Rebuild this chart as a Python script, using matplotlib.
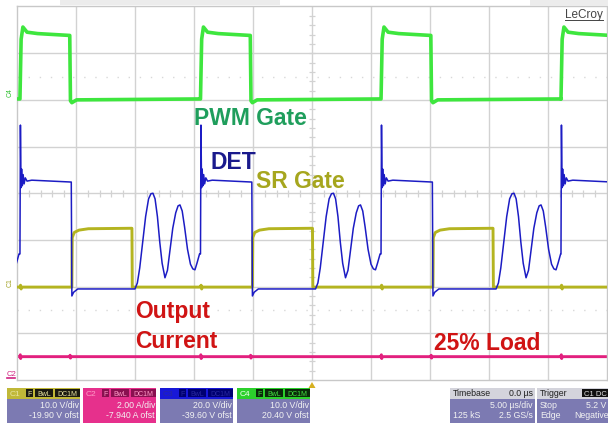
import numpy as np
import matplotlib.pyplot as plt
from matplotlib.patches import Rectangle, Polygon

plt.rcParams['font.family'] = ['Liberation Sans', 'DejaVu Sans']

# scope screen: 10 x 5 us horizontally, 8 divisions vertically
t_div = 5.0
n_xdiv = 10
n_ydiv = 8

# PWM gate rising edges (us)
period_starts = [-15.05, 0.25, 15.55, 30.85, 46.1]

# one switching period of each trace: time from rising edge (us), level (div)
pwm_t = [0.0, 0.1, 0.25, 0.6, 1.5, 4.22, 4.28, 4.4, 4.8, 15.28]
pwm_v = [2.02, 3.3, 3.56, 3.45, 3.42, 3.38, 1.98, 1.94, 2.0, 2.02]

det_t = [0.0, 0.04, 0.09, 0.14, 0.2, 0.27, 0.35, 0.45, 0.6, 1.0, 4.35, 4.4,
         4.55, 4.9, 9.75, 9.95, 10.15, 10.4, 10.65, 10.9, 11.1, 11.27, 11.45,
         11.65, 11.85, 12.05, 12.29, 12.5, 12.7, 12.95, 13.2, 13.4, 13.56,
         13.75, 13.95, 14.2, 14.45, 14.65, 14.83, 15.0, 15.22]
det_v = [-1.3, 1.46, 0.12, 0.52, 0.16, 0.4, 0.2, 0.33, 0.26, 0.28, 0.24, -2.2,
         -2.12, -2.05, -2.05, -1.92, -1.6, -1.05, -0.5, -0.12, -0.01, 0.0, -0.12,
         -0.5, -1.05, -1.5, -1.81, -1.65, -1.25, -0.75, -0.42, -0.27, -0.25,
         -0.38, -0.72, -1.2, -1.52, -1.62, -1.64, -1.5, -1.3]

sr_t = [0.0, 0.05, 0.1, 0.15, 4.4, 4.43, 4.6, 5.0, 5.8, 9.49, 9.52, 15.28]
sr_v = [-2.01, -1.97, -2.05, -2.01, -2.01, -0.95, -0.84, -0.79, -0.76, -0.75,
        -2.01, -2.01]

iout_t = [0.0, 0.03, 0.06, 0.09, 4.22, 4.25, 4.28, 4.31, 15.28]
iout_v = [-3.5, -3.46, -3.54, -3.5, -3.5, -3.47, -3.53, -3.5, -3.5]


def trace(t, v):
    ts = np.concatenate([s + np.array(t) for s in period_starts])
    vs = np.concatenate([np.array(v) for s in period_starts])
    return ts, vs


fig = plt.figure(figsize=(6.08, 4.23), dpi=100)
W, H = 608, 423

# grid area in pixels: x 17..607, y 6.5..380
ax = fig.add_axes([17 / W, 1 - 380 / H, 590 / W, 373.5 / H])
ax.set_xlim(0, n_xdiv * t_div)
ax.set_ylim(-n_ydiv / 2, n_ydiv / 2)
ax.set_xticks([])
ax.set_yticks([])
for s in ax.spines.values():
    s.set_color('#c8c8c8')
    s.set_linewidth(1)

gcol = '#d2d2d2'
for k in range(1, n_xdiv):
    ax.axvline(k * t_div, color=gcol, lw=1.0, zorder=0)
for k in range(1, n_ydiv):
    yv = -n_ydiv / 2 + k
    ax.axhline(yv, color=gcol, lw=1.0, zorder=0)
for yv in [2.5, -2.5]:
    ax.axhline(yv, color='#d8d8d8', lw=1.0, ls=(0, (1, 7)), zorder=0)

# minor ticks on the centre axes
tx = np.arange(0, n_xdiv * t_div, t_div / 5)
ax.vlines(tx, -0.07, 0.07, color=gcol, lw=0.9, zorder=0)
ty = np.arange(-n_ydiv / 2, n_ydiv / 2, 0.2)
ax.hlines(ty, 25 - 0.25, 25 + 0.25, color=gcol, lw=0.9, zorder=0)

ax.plot(*trace(iout_t, iout_v), color='#e2207e', lw=2.1, zorder=2)
ax.plot(*trace(sr_t, sr_v), color='#b4b420', lw=2.1, zorder=3)
ax.plot(*trace(det_t, det_v), color='#1c1cc4', lw=1.1, zorder=4)
ax.plot(*trace(pwm_t, pwm_v), color='#3ee63e', lw=2.6, zorder=5)

# overlay in pixel units for labels and the status bar
ov = fig.add_axes([0, 0, 1, 1], zorder=10)
ov.set_xlim(0, W)
ov.set_ylim(H, 0)
ov.axis('off')
ov.patch.set_alpha(0)

# light bars at the top edge
ov.add_patch(Rectangle((60, 0), 220, 5, color='#ececec', lw=0))
ov.add_patch(Rectangle((530, 0), 78, 6, color='#ececec', lw=0))

lab = dict(fontsize=16.5, fontweight='bold', va='baseline', ha='left')
ov.text(194, 125, 'PWM Gate', color='#1f9e5c', **lab)
ov.text(210, 169, 'DET', color='#1a1a8c', **lab)
ov.text(256, 188, 'SR Gate', color='#a6a61e', **lab)
ov.text(135, 318, 'Output', color='#d01414', **lab)
ov.text(135, 348, 'Current', color='#d01414', **lab)
ov.text(434, 350, '25% Load', color='#d01414', **lab)

ov.text(565, 18, 'LeCroy', fontsize=8.5, color='#454545', va='baseline')
ov.plot([565, 603], [20.5, 20.5], color='#454545', lw=0.7)

# channel ground markers
ov.text(10, 93, 'C4', fontsize=5, color='#30c030', rotation=90, ha='center', va='center')
ov.text(10, 283, 'C1', fontsize=5, color='#a0a020', rotation=90, ha='center', va='center')
ov.text(7, 374, 'C2', fontsize=5.5, color='#d02080', ha='left', va='center')
ov.plot([7, 15], [378.5, 378.5], color='#d02080', lw=1.2)

# trigger position marker
ov.add_patch(Polygon([(312, 382), (308.5, 388), (315.5, 388)], closed=True,
                     color='#d6b020', lw=0))

body = '#7c7ab2'
txt = '#f2f2f2'
st = dict(fontsize=6.3, color=txt, va='center')

channels = [
    ('C1', 7, '#c0b838', '#1a1a10', '#e8e4a0', body, '10.0 V/div', '-19.90 V ofst'),
    ('C2', 83, '#e6308c', '#8a1050', '#ff9cc8', '#e6308c', '2.00 A/div', '-7.940 A ofst'),
    ('C3', 160, '#1818d8', '#000070', '#2828a0', body, '20.0 V/div', '-39.60 V ofst'),
    ('C4', 237, '#2cd02c', '#0a2a0a', '#f0fff0', body, '10.0 V/div', '20.40 V ofst'),
]
for name, x0, hcol, bcol, tcol, bodycol, l1, l2 in channels:
    box = Rectangle((x0, 388), 73, 35, color=bodycol, lw=0)
    ov.add_patch(box)
    ov.add_patch(Rectangle((x0, 388), 73, 11, color=hcol, lw=0))
    ov.text(x0 + 3, 394, name, fontsize=6, color=tcol, va='center')
    for bx, bw, s in [(19, 7, 'F'), (28, 18, 'BwL'), (48, 25, 'DC1M')]:
        ov.add_patch(Rectangle((x0 + bx, 389.5), bw, 8, color=bcol, lw=0))
        t = ov.text(x0 + bx + bw / 2, 394, s, fontsize=5, color=tcol if name != 'C4' else '#40e040',
                    ha='center', va='center')
        t.set_clip_path(box)
    for y, s in [(405, l1), (416, l2)]:
        t = ov.text(x0 + 72, y, s, ha='right', **st)
        t.set_clip_path(box)

# timebase and trigger panels
tb = Rectangle((450, 388), 85, 35, color=body, lw=0)
ov.add_patch(tb)
ov.add_patch(Rectangle((450, 388), 85, 11, color='#d4d4dc', lw=0))
ov.text(453, 394, 'Timebase', fontsize=6.3, color='#202020', va='center')
ov.text(533, 394, '0.0 µs', fontsize=6.3, color='#202020', va='center', ha='right')
ov.text(533, 405, '5.00 µs/div', ha='right', **st)
ov.text(453, 416, '125 kS', ha='left', **st)
ov.text(533, 416, '2.5 GS/s', ha='right', **st)

tr = Rectangle((537, 388), 71, 35, color=body, lw=0)
ov.add_patch(tr)
ov.add_patch(Rectangle((537, 388), 71, 11, color='#d4d4dc', lw=0))
ov.text(540, 394, 'Trigger', fontsize=6.3, color='#202020', va='center')
ov.add_patch(Rectangle((582, 389.5), 26, 8, color='#101010', lw=0))
ov.text(584, 394, 'C1 DC', fontsize=5.5, color='#e0e0e0', va='center')
ov.text(540, 405, 'Stop', ha='left', **st)
ov.text(606, 405, '5.2 V', ha='right', **st)
ov.text(540, 416, 'Edge', ha='left', **st)
t = ov.text(609, 416, 'Negative', ha='right', **st)
t.set_clip_path(tr)

fig.savefig('out.png', dpi=100)
